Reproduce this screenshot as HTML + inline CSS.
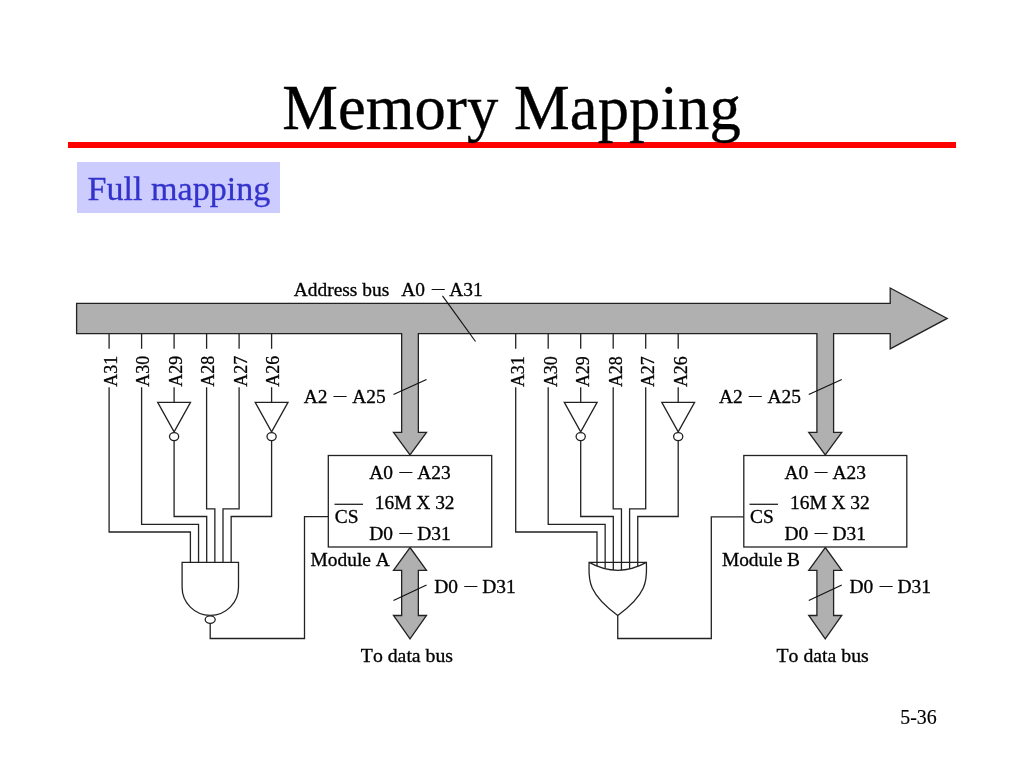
<!DOCTYPE html>
<html lang="en">
<head>
<meta charset="utf-8">
<title>Memory Mapping</title>
<style>
html,body{margin:0;padding:0;background:#fff;}
body{width:1024px;height:768px;position:relative;overflow:hidden;}
#rule{position:absolute;left:68px;top:142px;width:888px;height:6px;background:#fe0000;}
#sub{position:absolute;left:77px;top:162px;width:203px;height:51px;background:#ccccff;}
svg{position:absolute;left:0;top:0;will-change:transform;}
svg text{font-family:"Liberation Serif","Times New Roman",serif;font-kerning:none;font-variant-ligatures:none;}
#title{letter-spacing:0.1px;font-size:62.6px;fill:#000;stroke:#000;stroke-width:0.35px;}
#subt{font-size:34.1px;fill:#3333cc;stroke:#3333cc;stroke-width:0.3px;}
#num{font-size:19.9px;fill:#000;stroke:#000;stroke-width:0.15px;}
.g{fill:#b0b0b0;stroke:#222;stroke-width:1.3;stroke-linejoin:miter;}
.w{fill:#fff;stroke:#222;stroke-width:1.3;stroke-linejoin:miter;}
.l{fill:none;stroke:#222;stroke-width:1.3;stroke-linejoin:miter;}
.s{fill:none;stroke:#111;stroke-width:1.15;}
.t{font-size:17.9px;fill:#000;stroke:#000;stroke-width:0.3px;}
.d{font-size:19px;fill:#000;stroke:#000;stroke-width:0.15px;}
.r{font-size:19.3px;fill:#000;stroke:#000;stroke-width:0.3px;}
</style>
</head>
<body>
<div id="rule"></div>
<div id="sub"></div>
<svg width="1024" height="768" viewBox="0 0 1024 768">
<g id="diagram">
<path class="g" d="M76.6,303.4 L890.2,303.4 L890.2,288 L947.2,318.4 L890.2,348.8 L890.2,333.6 L833.6,333.6 L833.6,432.4 L841.75,432.4 L825.25,455 L808.75,432.4 L816.9,432.4 L816.9,333.6 L418.35,333.6 L418.35,432.4 L426.5,432.4 L410,455 L393.5,432.4 L401.65,432.4 L401.65,333.6 L76.6,333.6 Z"/>
<path class="g" d="M410,547.5 L426.5,570.3 L418.35,570.3 L418.35,615.5 L426.5,615.5 L410,638.8 L393.5,615.5 L401.65,615.5 L401.65,570.3 L393.5,570.3 Z"/>
<path class="g" d="M825.25,547.5 L841.75,570.3 L833.6,570.3 L833.6,615.5 L841.75,615.5 L825.25,638.8 L808.75,615.5 L816.9,615.5 L816.9,570.3 L808.75,570.3 Z"/>
<rect class="w" x="328.3" y="455.5" width="163.4" height="91.5"/>
<rect class="w" x="743.8" y="455.5" width="163" height="91.5"/>
<path class="s" d="M442.5,295.8 L475.5,341.5"/>
<path class="s" d="M393.5,394.5 L426.5,379.4"/>
<path class="s" d="M393.5,600.4 L426.5,585"/>
<path class="s" d="M808.75,394.5 L841.75,379.4"/>
<path class="s" d="M808.75,600.4 L841.75,585"/>
<path class="w" d="M182.1,562.4 L238.5,562.4 L238.5,587.2 A28.2,28.2 0 0 1 182.1,587.2 Z"/>
<ellipse class="w" cx="210.2" cy="619.6" rx="5" ry="3.8"/>
<path class="l" d="M210.2,623.5 L210.2,638.5 L304.5,638.5 L304.5,516.6 L328.3,516.6"/>
<path class="w" d="M589.1,562.4 L646.4,562.4 C646.4,577.3 650.4,591.3 617.75,615.5 C585.1,591.3 589.1,577.3 589.1,562.4 Z"/>
<path class="l" d="M589.1,562.4 Q617.75,578.2 646.4,562.4"/>
<path class="l" d="M617.75,615.5 L617.75,638.5 L711.3,638.5 L711.3,516.9 L743.8,516.9"/>
<path class="l" d="M109.1,333.6 L109.1,348.8"/>
<path class="l" d="M109.1,387.2 L109.1,532 L190.4,532 L190.4,562.4"/>
<path class="l" d="M141.6,333.6 L141.6,348.8"/>
<path class="l" d="M141.6,387.2 L141.6,524.3 L198.55,524.3 L198.55,562.4"/>
<path class="l" d="M174.1,333.6 L174.1,348.8"/>
<path class="l" d="M174.1,387.2 L174.1,402.3"/>
<path class="w" d="M157.7,402.3 L190.5,402.3 L174.1,431.9 Z"/>
<ellipse class="w" cx="174.1" cy="436.6" rx="4.6" ry="4"/>
<path class="l" d="M174.1,440.6 L174.1,516.5 L206.7,516.5 L206.7,562.4"/>
<path class="l" d="M206.6,333.6 L206.6,348.8"/>
<path class="l" d="M206.6,387.2 L206.6,508.8 L214.85,508.8 L214.85,562.4"/>
<path class="l" d="M239.1,333.6 L239.1,348.8"/>
<path class="l" d="M239.1,387.2 L239.1,508.8 L223,508.8 L223,562.4"/>
<path class="l" d="M271.6,333.6 L271.6,348.8"/>
<path class="l" d="M271.6,387.2 L271.6,402.3"/>
<path class="w" d="M255.2,402.3 L288,402.3 L271.6,431.9 Z"/>
<ellipse class="w" cx="271.6" cy="436.6" rx="4.6" ry="4"/>
<path class="l" d="M271.6,440.6 L271.6,516.5 L231.15,516.5 L231.15,562.4"/>
<path class="l" d="M515.7,333.6 L515.7,348.8"/>
<path class="l" d="M515.7,387.2 L515.7,532 L597,532 L597,566.156"/>
<path class="l" d="M548.2,333.6 L548.2,348.8"/>
<path class="l" d="M548.2,387.2 L548.2,524.3 L605.15,524.3 L605.15,568.772"/>
<path class="l" d="M580.7,333.6 L580.7,348.8"/>
<path class="l" d="M580.7,387.2 L580.7,402.3"/>
<path class="w" d="M564.3,402.3 L597.1,402.3 L580.7,431.9 Z"/>
<ellipse class="w" cx="580.7" cy="436.6" rx="4.6" ry="4"/>
<path class="l" d="M580.7,440.6 L580.7,516.5 L613.3,516.5 L613.3,570.109"/>
<path class="l" d="M613.2,333.6 L613.2,348.8"/>
<path class="l" d="M613.2,387.2 L613.2,508.8 L621.45,508.8 L621.45,570.168"/>
<path class="l" d="M645.7,333.6 L645.7,348.8"/>
<path class="l" d="M645.7,387.2 L645.7,508.8 L629.6,508.8 L629.6,568.949"/>
<path class="l" d="M678.2,333.6 L678.2,348.8"/>
<path class="l" d="M678.2,387.2 L678.2,402.3"/>
<path class="w" d="M661.8,402.3 L694.6,402.3 L678.2,431.9 Z"/>
<ellipse class="w" cx="678.2" cy="436.6" rx="4.6" ry="4"/>
<path class="l" d="M678.2,440.6 L678.2,516.5 L637.75,516.5 L637.75,566.45"/>
<path class="l" d="M334.5,504.3 L363,504.3"/>
<path class="l" d="M749.5,504.3 L778,504.3"/>
</g>
<g id="labels">
<text class="t" transform="translate(293.8,295.8) scale(1.085,1)">Address bus</text>
<text class="t" transform="translate(401.3,295.8) scale(1.085,1)">A0</text>
<text class="d" x="432.1" y="294.2" textLength="12.6" lengthAdjust="spacingAndGlyphs">–</text>
<text class="t" transform="translate(449.3,295.8) scale(1.085,1)">A31</text>
<text class="t" transform="translate(303.8,402.5) scale(1.085,1)">A2</text>
<text class="d" x="333.7" y="400.9" textLength="12.6" lengthAdjust="spacingAndGlyphs">–</text>
<text class="t" transform="translate(352.3,402.5) scale(1.085,1)">A25</text>
<text class="t" transform="translate(369.3,478.8) scale(1.085,1)">A0</text>
<text class="d" x="399.5" y="477.2" textLength="12.6" lengthAdjust="spacingAndGlyphs">–</text>
<text class="t" transform="translate(417.3,478.8) scale(1.085,1)">A23</text>
<text class="t" transform="translate(374.8,508.8) scale(1.085,1)">16M X 32</text>
<text class="t" transform="translate(334.8,522.5) scale(1.085,1)">CS</text>
<text class="t" transform="translate(369.3,539.5) scale(1.085,1)">D0</text>
<text class="d" x="399.5" y="537.9" textLength="12.6" lengthAdjust="spacingAndGlyphs">–</text>
<text class="t" transform="translate(417.3,539.5) scale(1.085,1)">D31</text>
<text class="t" transform="translate(434.3,593) scale(1.085,1)">D0</text>
<text class="d" x="464.5" y="591.4" textLength="12.6" lengthAdjust="spacingAndGlyphs">–</text>
<text class="t" transform="translate(482.3,593) scale(1.085,1)">D31</text>
<text class="t" transform="translate(360.8,661.7) scale(1.105,1)">To data bus</text>
<text class="t" transform="translate(719,402.5) scale(1.085,1)">A2</text>
<text class="d" x="748.9" y="400.9" textLength="12.6" lengthAdjust="spacingAndGlyphs">–</text>
<text class="t" transform="translate(767.5,402.5) scale(1.085,1)">A25</text>
<text class="t" transform="translate(784.5,478.8) scale(1.085,1)">A0</text>
<text class="d" x="814.7" y="477.2" textLength="12.6" lengthAdjust="spacingAndGlyphs">–</text>
<text class="t" transform="translate(832.5,478.8) scale(1.085,1)">A23</text>
<text class="t" transform="translate(790,508.8) scale(1.085,1)">16M X 32</text>
<text class="t" transform="translate(750,522.5) scale(1.085,1)">CS</text>
<text class="t" transform="translate(784.5,539.5) scale(1.085,1)">D0</text>
<text class="d" x="814.7" y="537.9" textLength="12.6" lengthAdjust="spacingAndGlyphs">–</text>
<text class="t" transform="translate(832.5,539.5) scale(1.085,1)">D31</text>
<text class="t" transform="translate(849.5,593) scale(1.085,1)">D0</text>
<text class="d" x="879.7" y="591.4" textLength="12.6" lengthAdjust="spacingAndGlyphs">–</text>
<text class="t" transform="translate(897.5,593) scale(1.085,1)">D31</text>
<text class="t" transform="translate(776.5,661.7) scale(1.105,1)">To data bus</text>
<text class="t" transform="translate(310.6,566.3) scale(1.085,1)">Module A</text>
<text class="t" transform="translate(721.9,566.3) scale(1.085,1)">Module B</text>
<text class="r" transform="translate(116.8,386.7) rotate(-90) scale(0.93,1)">A31</text>
<text class="r" transform="translate(149.3,386.7) rotate(-90) scale(0.93,1)">A30</text>
<text class="r" transform="translate(181.8,386.7) rotate(-90) scale(0.93,1)">A29</text>
<text class="r" transform="translate(214.3,386.7) rotate(-90) scale(0.93,1)">A28</text>
<text class="r" transform="translate(246.8,386.7) rotate(-90) scale(0.93,1)">A27</text>
<text class="r" transform="translate(279.3,386.7) rotate(-90) scale(0.93,1)">A26</text>
<text class="r" transform="translate(524.4,387.1) rotate(-90) scale(0.93,1)">A31</text>
<text class="r" transform="translate(556.9,387.1) rotate(-90) scale(0.93,1)">A30</text>
<text class="r" transform="translate(589.4,387.1) rotate(-90) scale(0.93,1)">A29</text>
<text class="r" transform="translate(621.9,387.1) rotate(-90) scale(0.93,1)">A28</text>
<text class="r" transform="translate(654.4,387.1) rotate(-90) scale(0.93,1)">A27</text>
<text class="r" transform="translate(686.9,387.1) rotate(-90) scale(0.93,1)">A26</text>
</g>
<text id="title" x="511.5" y="129.4" text-anchor="middle">Memory Mapping</text>
<text id="subt" x="87.6" y="200">Full mapping</text>
<text id="num" x="900.3" y="724.3">5-36</text>
</svg>
</body>
</html>
